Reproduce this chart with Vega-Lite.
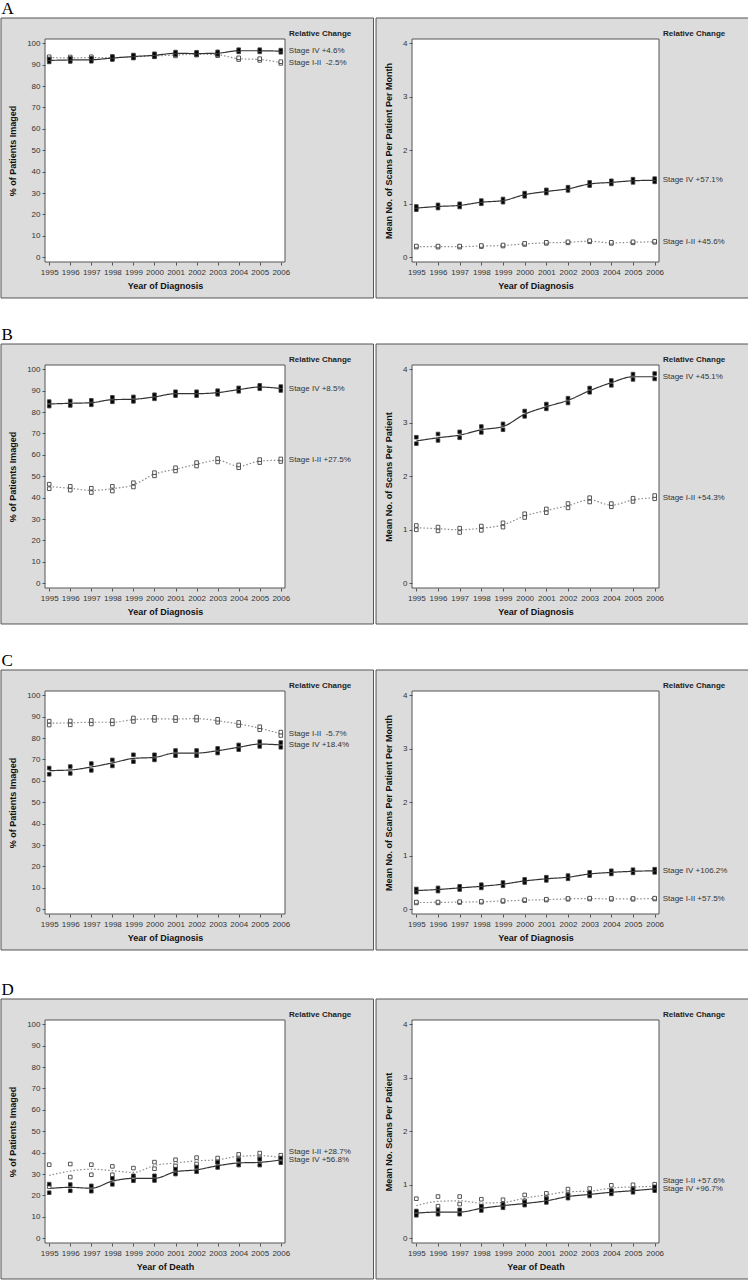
{
"$schema": "https://vega.github.io/schema/vega-lite/v6.json",
"background": "#ffffff",
"padding": {"left": 0, "top": 0, "right": 0, "bottom": 0},
"datasets": {
"labels": [
{"key": "A1 IV", "text": "Stage IV +4.6%"}, {"key": "A1 I-II", "text": "Stage I-II \u00a0-2.5%"},
{"key": "A2 IV", "text": "Stage IV +57.1%"}, {"key": "A2 I-II", "text": "Stage I-II +45.6%"},
{"key": "B1 IV", "text": "Stage IV +8.5%"}, {"key": "B1 I-II", "text": "Stage I-II +27.5%"},
{"key": "B2 IV", "text": "Stage IV +45.1%"}, {"key": "B2 I-II", "text": "Stage I-II +54.3%"},
{"key": "C1 IV", "text": "Stage IV +18.4%"}, {"key": "C1 I-II", "text": "Stage I-II \u00a0-5.7%"},
{"key": "C2 IV", "text": "Stage IV +106.2%"}, {"key": "C2 I-II", "text": "Stage I-II +57.5%"},
{"key": "D1 IV", "text": "Stage IV +56.8%"}, {"key": "D1 I-II", "text": "Stage I-II +28.7%"},
{"key": "D2 IV", "text": "Stage IV +96.7%"}, {"key": "D2 I-II", "text": "Stage I-II +57.6%"}
],
"A1": [
{"stage":"I-II","year":1995,"value":93.3,"lower":92.9,"upper":93.7},
{"stage":"I-II","year":1996,"value":93.2,"lower":92.8,"upper":93.6},
{"stage":"I-II","year":1997,"value":93.3,"lower":92.9,"upper":93.7},
{"stage":"I-II","year":1998,"value":93.3,"lower":92.9,"upper":93.7},
{"stage":"I-II","year":1999,"value":93.7,"lower":93.3,"upper":94.1},
{"stage":"I-II","year":2000,"value":94.1,"lower":93.7,"upper":94.5},
{"stage":"I-II","year":2001,"value":94.5,"lower":94.1,"upper":94.9},
{"stage":"I-II","year":2002,"value":94.9,"lower":94.5,"upper":95.3},
{"stage":"I-II","year":2003,"value":94.6,"lower":94.2,"upper":95.0},
{"stage":"I-II","year":2004,"value":92.8,"lower":92.4,"upper":93.2},
{"stage":"I-II","year":2005,"value":92.4,"lower":92.0,"upper":92.8},
{"stage":"I-II","year":2006,"value":91.0,"lower":90.6,"upper":91.4},
{"stage":"IV","year":1995,"value":92.0,"lower":91.3,"upper":92.7},
{"stage":"IV","year":1996,"value":92.2,"lower":91.5,"upper":92.9},
{"stage":"IV","year":1997,"value":92.3,"lower":91.6,"upper":93.0},
{"stage":"IV","year":1998,"value":93.1,"lower":92.4,"upper":93.8},
{"stage":"IV","year":1999,"value":93.8,"lower":93.1,"upper":94.5},
{"stage":"IV","year":2000,"value":94.4,"lower":93.7,"upper":95.1},
{"stage":"IV","year":2001,"value":95.3,"lower":94.7,"upper":95.9},
{"stage":"IV","year":2002,"value":95.2,"lower":94.6,"upper":95.8},
{"stage":"IV","year":2003,"value":95.4,"lower":94.8,"upper":96.0},
{"stage":"IV","year":2004,"value":96.5,"lower":96.0,"upper":97.0},
{"stage":"IV","year":2005,"value":96.5,"lower":96.0,"upper":97.0},
{"stage":"IV","year":2006,"value":96.3,"lower":95.8,"upper":96.8}
],
"A2": [
{"stage":"I-II","year":1995,"value":0.20,"lower":0.19,"upper":0.21},
{"stage":"I-II","year":1996,"value":0.20,"lower":0.19,"upper":0.21},
{"stage":"I-II","year":1997,"value":0.20,"lower":0.19,"upper":0.21},
{"stage":"I-II","year":1998,"value":0.21,"lower":0.20,"upper":0.22},
{"stage":"I-II","year":1999,"value":0.22,"lower":0.21,"upper":0.23},
{"stage":"I-II","year":2000,"value":0.25,"lower":0.24,"upper":0.26},
{"stage":"I-II","year":2001,"value":0.27,"lower":0.26,"upper":0.28},
{"stage":"I-II","year":2002,"value":0.28,"lower":0.27,"upper":0.29},
{"stage":"I-II","year":2003,"value":0.30,"lower":0.29,"upper":0.31},
{"stage":"I-II","year":2004,"value":0.27,"lower":0.26,"upper":0.28},
{"stage":"I-II","year":2005,"value":0.28,"lower":0.27,"upper":0.29},
{"stage":"I-II","year":2006,"value":0.29,"lower":0.28,"upper":0.30},
{"stage":"IV","year":1995,"value":0.92,"lower":0.89,"upper":0.95},
{"stage":"IV","year":1996,"value":0.95,"lower":0.92,"upper":0.98},
{"stage":"IV","year":1997,"value":0.97,"lower":0.94,"upper":1.00},
{"stage":"IV","year":1998,"value":1.03,"lower":1.00,"upper":1.06},
{"stage":"IV","year":1999,"value":1.06,"lower":1.03,"upper":1.09},
{"stage":"IV","year":2000,"value":1.17,"lower":1.14,"upper":1.20},
{"stage":"IV","year":2001,"value":1.23,"lower":1.20,"upper":1.26},
{"stage":"IV","year":2002,"value":1.28,"lower":1.25,"upper":1.31},
{"stage":"IV","year":2003,"value":1.37,"lower":1.34,"upper":1.40},
{"stage":"IV","year":2004,"value":1.40,"lower":1.37,"upper":1.43},
{"stage":"IV","year":2005,"value":1.43,"lower":1.40,"upper":1.46},
{"stage":"IV","year":2006,"value":1.44,"lower":1.41,"upper":1.47}
],
"B1": [
{"stage":"I-II","year":1995,"value":45.2,"lower":44.2,"upper":46.3},
{"stage":"I-II","year":1996,"value":44.4,"lower":43.5,"upper":45.3},
{"stage":"I-II","year":1997,"value":43.4,"lower":42.4,"upper":44.4},
{"stage":"I-II","year":1998,"value":44.2,"lower":43.1,"upper":45.3},
{"stage":"I-II","year":1999,"value":46.0,"lower":45.0,"upper":47.0},
{"stage":"I-II","year":2000,"value":51.0,"lower":50.2,"upper":51.7},
{"stage":"I-II","year":2001,"value":53.3,"lower":52.5,"upper":54.0},
{"stage":"I-II","year":2002,"value":55.6,"lower":54.8,"upper":56.4},
{"stage":"I-II","year":2003,"value":57.5,"lower":56.7,"upper":58.3},
{"stage":"I-II","year":2004,"value":54.7,"lower":54.0,"upper":55.3},
{"stage":"I-II","year":2005,"value":57.1,"lower":56.4,"upper":57.8},
{"stage":"I-II","year":2006,"value":57.5,"lower":56.9,"upper":58.1},
{"stage":"IV","year":1995,"value":83.8,"lower":82.8,"upper":84.9},
{"stage":"IV","year":1996,"value":84.1,"lower":83.1,"upper":85.2},
{"stage":"IV","year":1997,"value":84.4,"lower":83.4,"upper":85.5},
{"stage":"IV","year":1998,"value":85.8,"lower":84.8,"upper":86.9},
{"stage":"IV","year":1999,"value":86.0,"lower":85.0,"upper":87.1},
{"stage":"IV","year":2000,"value":87.1,"lower":86.2,"upper":88.1},
{"stage":"IV","year":2001,"value":88.6,"lower":87.7,"upper":89.5},
{"stage":"IV","year":2002,"value":88.6,"lower":87.7,"upper":89.5},
{"stage":"IV","year":2003,"value":89.1,"lower":88.3,"upper":90.0},
{"stage":"IV","year":2004,"value":90.5,"lower":89.7,"upper":91.3},
{"stage":"IV","year":2005,"value":91.7,"lower":90.9,"upper":92.5},
{"stage":"IV","year":2006,"value":91.0,"lower":90.1,"upper":91.9}
],
"B2": [
{"stage":"I-II","year":1995,"value":1.04,"lower":1.00,"upper":1.08},
{"stage":"I-II","year":1996,"value":1.02,"lower":0.98,"upper":1.05},
{"stage":"I-II","year":1997,"value":1.00,"lower":0.95,"upper":1.03},
{"stage":"I-II","year":1998,"value":1.03,"lower":0.99,"upper":1.07},
{"stage":"I-II","year":1999,"value":1.09,"lower":1.05,"upper":1.13},
{"stage":"I-II","year":2000,"value":1.26,"lower":1.23,"upper":1.30},
{"stage":"I-II","year":2001,"value":1.36,"lower":1.32,"upper":1.39},
{"stage":"I-II","year":2002,"value":1.45,"lower":1.41,"upper":1.49},
{"stage":"I-II","year":2003,"value":1.56,"lower":1.52,"upper":1.60},
{"stage":"I-II","year":2004,"value":1.46,"lower":1.43,"upper":1.49},
{"stage":"I-II","year":2005,"value":1.56,"lower":1.53,"upper":1.59},
{"stage":"I-II","year":2006,"value":1.60,"lower":1.58,"upper":1.64},
{"stage":"IV","year":1995,"value":2.66,"lower":2.61,"upper":2.73},
{"stage":"IV","year":1996,"value":2.72,"lower":2.67,"upper":2.79},
{"stage":"IV","year":1997,"value":2.77,"lower":2.72,"upper":2.83},
{"stage":"IV","year":1998,"value":2.87,"lower":2.82,"upper":2.93},
{"stage":"IV","year":1999,"value":2.93,"lower":2.87,"upper":2.98},
{"stage":"IV","year":2000,"value":3.16,"lower":3.12,"upper":3.22},
{"stage":"IV","year":2001,"value":3.30,"lower":3.26,"upper":3.35},
{"stage":"IV","year":2002,"value":3.42,"lower":3.37,"upper":3.46},
{"stage":"IV","year":2003,"value":3.60,"lower":3.57,"upper":3.65},
{"stage":"IV","year":2004,"value":3.75,"lower":3.70,"upper":3.79},
{"stage":"IV","year":2005,"value":3.86,"lower":3.81,"upper":3.91},
{"stage":"IV","year":2006,"value":3.86,"lower":3.82,"upper":3.92}
],
"C1": [
{"stage":"I-II","year":1995,"value":87.0,"lower":86.1,"upper":87.9},
{"stage":"I-II","year":1996,"value":87.1,"lower":86.2,"upper":88.0},
{"stage":"I-II","year":1997,"value":87.4,"lower":86.6,"upper":88.2},
{"stage":"I-II","year":1998,"value":87.4,"lower":86.6,"upper":88.2},
{"stage":"I-II","year":1999,"value":88.6,"lower":87.8,"upper":89.4},
{"stage":"I-II","year":2000,"value":89.0,"lower":88.3,"upper":89.7},
{"stage":"I-II","year":2001,"value":88.9,"lower":88.2,"upper":89.6},
{"stage":"I-II","year":2002,"value":89.1,"lower":88.4,"upper":89.8},
{"stage":"I-II","year":2003,"value":88.1,"lower":87.4,"upper":88.8},
{"stage":"I-II","year":2004,"value":86.6,"lower":85.9,"upper":87.3},
{"stage":"I-II","year":2005,"value":84.6,"lower":83.9,"upper":85.3},
{"stage":"I-II","year":2006,"value":82.0,"lower":81.2,"upper":82.8},
{"stage":"IV","year":1995,"value":64.8,"lower":63.1,"upper":66.0},
{"stage":"IV","year":1996,"value":65.1,"lower":63.5,"upper":66.7},
{"stage":"IV","year":1997,"value":66.5,"lower":64.9,"upper":68.1},
{"stage":"IV","year":1998,"value":68.4,"lower":67.0,"upper":69.8},
{"stage":"IV","year":1999,"value":70.5,"lower":69.0,"upper":72.2},
{"stage":"IV","year":2000,"value":71.0,"lower":69.8,"upper":72.2},
{"stage":"IV","year":2001,"value":73.0,"lower":71.8,"upper":74.2},
{"stage":"IV","year":2002,"value":73.0,"lower":71.8,"upper":74.2},
{"stage":"IV","year":2003,"value":74.1,"lower":73.0,"upper":75.2},
{"stage":"IV","year":2004,"value":75.7,"lower":74.6,"upper":76.8},
{"stage":"IV","year":2005,"value":77.2,"lower":76.1,"upper":78.3},
{"stage":"IV","year":2006,"value":76.8,"lower":75.7,"upper":77.9}
],
"C2": [
{"stage":"I-II","year":1995,"value":0.127,"lower":0.119,"upper":0.135},
{"stage":"I-II","year":1996,"value":0.128,"lower":0.120,"upper":0.136},
{"stage":"I-II","year":1997,"value":0.135,"lower":0.127,"upper":0.143},
{"stage":"I-II","year":1998,"value":0.140,"lower":0.132,"upper":0.148},
{"stage":"I-II","year":1999,"value":0.155,"lower":0.147,"upper":0.163},
{"stage":"I-II","year":2000,"value":0.170,"lower":0.162,"upper":0.178},
{"stage":"I-II","year":2001,"value":0.180,"lower":0.172,"upper":0.188},
{"stage":"I-II","year":2002,"value":0.195,"lower":0.187,"upper":0.203},
{"stage":"I-II","year":2003,"value":0.200,"lower":0.192,"upper":0.208},
{"stage":"I-II","year":2004,"value":0.195,"lower":0.187,"upper":0.203},
{"stage":"I-II","year":2005,"value":0.195,"lower":0.187,"upper":0.203},
{"stage":"I-II","year":2006,"value":0.200,"lower":0.192,"upper":0.208},
{"stage":"IV","year":1995,"value":0.35,"lower":0.32,"upper":0.38},
{"stage":"IV","year":1996,"value":0.37,"lower":0.34,"upper":0.40},
{"stage":"IV","year":1997,"value":0.40,"lower":0.37,"upper":0.43},
{"stage":"IV","year":1998,"value":0.43,"lower":0.40,"upper":0.46},
{"stage":"IV","year":1999,"value":0.47,"lower":0.44,"upper":0.50},
{"stage":"IV","year":2000,"value":0.53,"lower":0.50,"upper":0.56},
{"stage":"IV","year":2001,"value":0.57,"lower":0.54,"upper":0.60},
{"stage":"IV","year":2002,"value":0.60,"lower":0.57,"upper":0.63},
{"stage":"IV","year":2003,"value":0.66,"lower":0.63,"upper":0.69},
{"stage":"IV","year":2004,"value":0.69,"lower":0.66,"upper":0.72},
{"stage":"IV","year":2005,"value":0.71,"lower":0.68,"upper":0.74},
{"stage":"IV","year":2006,"value":0.72,"lower":0.69,"upper":0.75}
],
"D1": [
{"stage":"I-II","year":1995,"value":29.4,"lower":24.1,"upper":34.4},
{"stage":"I-II","year":1996,"value":31.4,"lower":28.6,"upper":34.7},
{"stage":"I-II","year":1997,"value":32.3,"lower":29.7,"upper":34.4},
{"stage":"I-II","year":1998,"value":31.6,"lower":29.7,"upper":33.6},
{"stage":"I-II","year":1999,"value":30.8,"lower":28.0,"upper":32.8},
{"stage":"I-II","year":2000,"value":34.0,"lower":32.5,"upper":35.6},
{"stage":"I-II","year":2001,"value":35.2,"lower":33.8,"upper":36.7},
{"stage":"I-II","year":2002,"value":36.2,"lower":34.7,"upper":37.7},
{"stage":"I-II","year":2003,"value":36.7,"lower":35.5,"upper":37.5},
{"stage":"I-II","year":2004,"value":38.3,"lower":37.0,"upper":39.2},
{"stage":"I-II","year":2005,"value":38.6,"lower":37.5,"upper":39.8},
{"stage":"I-II","year":2006,"value":37.8,"lower":37.0,"upper":38.8},
{"stage":"IV","year":1995,"value":23.3,"lower":21.3,"upper":25.3},
{"stage":"IV","year":1996,"value":23.8,"lower":22.2,"upper":25.1},
{"stage":"IV","year":1997,"value":23.4,"lower":22.0,"upper":24.5},
{"stage":"IV","year":1998,"value":26.7,"lower":25.2,"upper":28.0},
{"stage":"IV","year":1999,"value":28.0,"lower":26.9,"upper":29.2},
{"stage":"IV","year":2000,"value":28.0,"lower":27.0,"upper":29.2},
{"stage":"IV","year":2001,"value":31.1,"lower":30.0,"upper":32.3},
{"stage":"IV","year":2002,"value":32.0,"lower":31.1,"upper":33.3},
{"stage":"IV","year":2003,"value":33.9,"lower":33.1,"upper":35.5},
{"stage":"IV","year":2004,"value":35.2,"lower":34.2,"upper":36.6},
{"stage":"IV","year":2005,"value":35.5,"lower":34.2,"upper":36.9},
{"stage":"IV","year":2006,"value":36.6,"lower":35.3,"upper":37.5}
],
"D2": [
{"stage":"I-II","year":1995,"value":0.61,"lower":0.48,"upper":0.74},
{"stage":"I-II","year":1996,"value":0.69,"lower":0.60,"upper":0.78},
{"stage":"I-II","year":1997,"value":0.70,"lower":0.64,"upper":0.78},
{"stage":"I-II","year":1998,"value":0.66,"lower":0.60,"upper":0.73},
{"stage":"I-II","year":1999,"value":0.67,"lower":0.61,"upper":0.72},
{"stage":"I-II","year":2000,"value":0.75,"lower":0.70,"upper":0.81},
{"stage":"I-II","year":2001,"value":0.81,"lower":0.76,"upper":0.84},
{"stage":"I-II","year":2002,"value":0.87,"lower":0.82,"upper":0.92},
{"stage":"I-II","year":2003,"value":0.88,"lower":0.83,"upper":0.93},
{"stage":"I-II","year":2004,"value":0.94,"lower":0.89,"upper":0.99},
{"stage":"I-II","year":2005,"value":0.96,"lower":0.92,"upper":1.00},
{"stage":"I-II","year":2006,"value":0.97,"lower":0.93,"upper":1.01},
{"stage":"IV","year":1995,"value":0.47,"lower":0.43,"upper":0.51},
{"stage":"IV","year":1996,"value":0.49,"lower":0.45,"upper":0.53},
{"stage":"IV","year":1997,"value":0.49,"lower":0.45,"upper":0.53},
{"stage":"IV","year":1998,"value":0.56,"lower":0.52,"upper":0.60},
{"stage":"IV","year":1999,"value":0.61,"lower":0.57,"upper":0.64},
{"stage":"IV","year":2000,"value":0.65,"lower":0.62,"upper":0.68},
{"stage":"IV","year":2001,"value":0.70,"lower":0.67,"upper":0.74},
{"stage":"IV","year":2002,"value":0.78,"lower":0.75,"upper":0.81},
{"stage":"IV","year":2003,"value":0.82,"lower":0.79,"upper":0.85},
{"stage":"IV","year":2004,"value":0.86,"lower":0.83,"upper":0.89},
{"stage":"IV","year":2005,"value":0.89,"lower":0.86,"upper":0.92},
{"stage":"IV","year":2006,"value":0.925,"lower":0.89,"upper":0.96}
]
},
"config": {
"font": "Liberation Sans",
"view": {"stroke": null},
"axis": {"grid": false, "domain": false, "tickSize": 3, "tickColor": "#555555", "tickWidth": 1, "labelFont": "Liberation Sans", "labelFontSize": 8, "labelColor": "#333333", "titleFont": "Liberation Sans", "titleFontSize": 9, "titleFontWeight": "bold", "titleColor": "#111111", "labelOverlap": false, "labelFlush": false},
"axisX": {"labelPadding": 3, "titlePadding": 5},
"axisY": {"labelPadding": 2, "titlePadding": 9},
"text": {"font": "Liberation Sans"}
},
"spacing": 30,
"vconcat": [
{"spacing": 27, "vconcat": [
{"title": {"text": "A", "anchor": "start", "frame": "bounds", "orient": "top", "baseline": "alphabetic", "offset": -13.5, "dx": 1, "font": "Liberation Serif", "fontSize": 17, "fontWeight": "normal", "color": "#000000"},
 "spacing": 0, "hconcat": [
{"width": 240, "height": 223, "data": {"name": "A1"}, "layer": [
 {"data": {"values": [{}]}, "mark": {"type": "rect", "fill": "#dcdcdc", "stroke": "#555555", "strokeWidth": 1, "clip": false},
  "encoding": {"x": {"datum": 1992.71, "type": "quantitative", "scale": {"domain": [1994.8, 2006.2], "nice": false, "zero": false}, "axis": {"values": [1995,1996,1997,1998,1999,2000,2001,2002,2003,2004,2005,2006], "format": "d", "title": "Year of Diagnosis", "zindex": 1}}, "x2": {"datum": 2010.404},
   "y": {"datum": -19.02, "type": "quantitative", "scale": {"domain": [-2.2, 102], "nice": false, "zero": false}, "axis": {"values": [0,10,20,30,40,50,60,70,80,90,100], "format": "d", "title": "% of Patients Imaged", "zindex": 1}}, "y2": {"datum": 111.81}}},
 {"data": {"values": [{}]}, "mark": {"type": "rect", "fill": "#ffffff", "stroke": "#555555", "strokeWidth": 1},
  "encoding": {"x": {"datum": 1994.8, "type": "quantitative", "scale": {"domain": [1994.8, 2006.2], "nice": false, "zero": false}, "axis": {"values": [1995,1996,1997,1998,1999,2000,2001,2002,2003,2004,2005,2006], "format": "d", "title": "Year of Diagnosis", "zindex": 1}}, "x2": {"datum": 2006.2},
   "y": {"datum": -2.2, "type": "quantitative", "scale": {"domain": [-2.2, 102], "nice": false, "zero": false}, "axis": {"values": [0,10,20,30,40,50,60,70,80,90,100], "format": "d", "title": "% of Patients Imaged", "zindex": 1}}, "y2": {"datum": 102}}},
 {"mark": {"type": "line", "interpolate": "monotone", "strokeWidth": 1.2},
  "encoding": {"x": {"field": "year", "type": "quantitative", "scale": {"domain": [1994.8, 2006.2], "nice": false, "zero": false}, "axis": {"values": [1995,1996,1997,1998,1999,2000,2001,2002,2003,2004,2005,2006], "format": "d", "title": "Year of Diagnosis", "zindex": 1}},
   "y": {"field": "value", "type": "quantitative", "scale": {"domain": [-2.2, 102], "nice": false, "zero": false}, "axis": {"values": [0,10,20,30,40,50,60,70,80,90,100], "format": "d", "title": "% of Patients Imaged", "zindex": 1}},
   "stroke": {"field": "stage", "type": "nominal", "scale": {"domain": ["I-II", "IV"], "range": ["#8a8a8a", "#333333"]}, "legend": null},
   "strokeDash": {"field": "stage", "type": "nominal", "scale": {"domain": ["I-II", "IV"], "range": [[1.5, 2], [1, 0]]}, "legend": null}}},
 {"transform": [{"fold": ["lower", "upper"], "as": ["bound", "est"]}],
  "mark": {"type": "point", "shape": "square", "size": 13, "filled": true, "stroke": "#444444", "strokeWidth": 0.9, "opacity": 1},
  "encoding": {"x": {"field": "year", "type": "quantitative", "scale": {"domain": [1994.8, 2006.2], "nice": false, "zero": false}, "axis": {"values": [1995,1996,1997,1998,1999,2000,2001,2002,2003,2004,2005,2006], "format": "d", "title": "Year of Diagnosis", "zindex": 1}},
   "y": {"field": "est", "type": "quantitative", "scale": {"domain": [-2.2, 102], "nice": false, "zero": false}, "axis": {"values": [0,10,20,30,40,50,60,70,80,90,100], "format": "d", "title": "% of Patients Imaged", "zindex": 1}},
   "fill": {"field": "stage", "type": "nominal", "scale": {"domain": ["I-II", "IV"], "range": ["#ffffff", "#000000"]}, "legend": null},
   "order": {"field": "stage", "type": "nominal"}}},
 {"transform": [{"filter": "datum.year == 2006"}, {"calculate": "'A1 ' + datum.stage", "as": "key"}, {"lookup": "key", "from": {"data": {"name": "labels"}, "key": "key", "fields": ["text"]}}],
  "mark": {"type": "text", "align": "left", "baseline": "middle", "dx": 8, "fontSize": 8, "color": "#333333"},
  "encoding": {"x": {"field": "year", "type": "quantitative", "scale": {"domain": [1994.8, 2006.2], "nice": false, "zero": false}, "axis": {"values": [1995,1996,1997,1998,1999,2000,2001,2002,2003,2004,2005,2006], "format": "d", "title": "Year of Diagnosis", "zindex": 1}},
   "y": {"field": "value", "type": "quantitative", "scale": {"domain": [-2.2, 102], "nice": false, "zero": false}, "axis": {"values": [0,10,20,30,40,50,60,70,80,90,100], "format": "d", "title": "% of Patients Imaged", "zindex": 1}},
   "text": {"field": "text", "type": "nominal"}}},
 {"data": {"values": [{}]}, "mark": {"type": "text", "text": "Relative Change", "align": "left", "baseline": "middle", "dx": 4, "dy": -5, "fontSize": 8, "fontWeight": "bold", "color": "#222222"},
  "encoding": {"x": {"datum": 2006.2, "type": "quantitative", "scale": {"domain": [1994.8, 2006.2], "nice": false, "zero": false}, "axis": {"values": [1995,1996,1997,1998,1999,2000,2001,2002,2003,2004,2005,2006], "format": "d", "title": "Year of Diagnosis", "zindex": 1}},
   "y": {"datum": 102, "type": "quantitative", "scale": {"domain": [-2.2, 102], "nice": false, "zero": false}, "axis": {"values": [0,10,20,30,40,50,60,70,80,90,100], "format": "d", "title": "% of Patients Imaged", "zindex": 1}}}}
]},
{"width": 247, "height": 223, "data": {"name": "A2"}, "layer": [
 {"data": {"values": [{}]}, "mark": {"type": "rect", "fill": "#dcdcdc", "stroke": "#555555", "strokeWidth": 1, "clip": false},
  "encoding": {"x": {"datum": 1993.14, "type": "quantitative", "scale": {"domain": [1994.8, 2006.2], "nice": false, "zero": false}, "axis": {"values": [1995,1996,1997,1998,1999,2000,2001,2002,2003,2004,2005,2006], "format": "d", "title": "Year of Diagnosis", "zindex": 1}}, "x2": {"datum": 2010.35},
   "y": {"datum": -0.7609, "type": "quantitative", "scale": {"domain": [-0.088, 4.08], "nice": false, "zero": false}, "axis": {"values": [0,1,2,3,4], "format": "d", "title": "Mean No. of Scans Per Patient Per Month", "zindex": 1}}, "y2": {"datum": 4.4725}}},
 {"data": {"values": [{}]}, "mark": {"type": "rect", "fill": "#ffffff", "stroke": "#555555", "strokeWidth": 1},
  "encoding": {"x": {"datum": 1994.8, "type": "quantitative", "scale": {"domain": [1994.8, 2006.2], "nice": false, "zero": false}, "axis": {"values": [1995,1996,1997,1998,1999,2000,2001,2002,2003,2004,2005,2006], "format": "d", "title": "Year of Diagnosis", "zindex": 1}}, "x2": {"datum": 2006.2},
   "y": {"datum": -0.088, "type": "quantitative", "scale": {"domain": [-0.088, 4.08], "nice": false, "zero": false}, "axis": {"values": [0,1,2,3,4], "format": "d", "title": "Mean No. of Scans Per Patient Per Month", "zindex": 1}}, "y2": {"datum": 4.08}}},
 {"mark": {"type": "line", "interpolate": "monotone", "strokeWidth": 1.2},
  "encoding": {"x": {"field": "year", "type": "quantitative", "scale": {"domain": [1994.8, 2006.2], "nice": false, "zero": false}, "axis": {"values": [1995,1996,1997,1998,1999,2000,2001,2002,2003,2004,2005,2006], "format": "d", "title": "Year of Diagnosis", "zindex": 1}},
   "y": {"field": "value", "type": "quantitative", "scale": {"domain": [-0.088, 4.08], "nice": false, "zero": false}, "axis": {"values": [0,1,2,3,4], "format": "d", "title": "Mean No. of Scans Per Patient Per Month", "zindex": 1}},
   "stroke": {"field": "stage", "type": "nominal", "scale": {"domain": ["I-II", "IV"], "range": ["#8a8a8a", "#333333"]}, "legend": null},
   "strokeDash": {"field": "stage", "type": "nominal", "scale": {"domain": ["I-II", "IV"], "range": [[1.5, 2], [1, 0]]}, "legend": null}}},
 {"transform": [{"fold": ["lower", "upper"], "as": ["bound", "est"]}],
  "mark": {"type": "point", "shape": "square", "size": 13, "filled": true, "stroke": "#444444", "strokeWidth": 0.9, "opacity": 1},
  "encoding": {"x": {"field": "year", "type": "quantitative", "scale": {"domain": [1994.8, 2006.2], "nice": false, "zero": false}, "axis": {"values": [1995,1996,1997,1998,1999,2000,2001,2002,2003,2004,2005,2006], "format": "d", "title": "Year of Diagnosis", "zindex": 1}},
   "y": {"field": "est", "type": "quantitative", "scale": {"domain": [-0.088, 4.08], "nice": false, "zero": false}, "axis": {"values": [0,1,2,3,4], "format": "d", "title": "Mean No. of Scans Per Patient Per Month", "zindex": 1}},
   "fill": {"field": "stage", "type": "nominal", "scale": {"domain": ["I-II", "IV"], "range": ["#ffffff", "#000000"]}, "legend": null},
   "order": {"field": "stage", "type": "nominal"}}},
 {"transform": [{"filter": "datum.year == 2006"}, {"calculate": "'A2 ' + datum.stage", "as": "key"}, {"lookup": "key", "from": {"data": {"name": "labels"}, "key": "key", "fields": ["text"]}}],
  "mark": {"type": "text", "align": "left", "baseline": "middle", "dx": 8, "fontSize": 8, "color": "#333333"},
  "encoding": {"x": {"field": "year", "type": "quantitative", "scale": {"domain": [1994.8, 2006.2], "nice": false, "zero": false}, "axis": {"values": [1995,1996,1997,1998,1999,2000,2001,2002,2003,2004,2005,2006], "format": "d", "title": "Year of Diagnosis", "zindex": 1}},
   "y": {"field": "value", "type": "quantitative", "scale": {"domain": [-0.088, 4.08], "nice": false, "zero": false}, "axis": {"values": [0,1,2,3,4], "format": "d", "title": "Mean No. of Scans Per Patient Per Month", "zindex": 1}},
   "text": {"field": "text", "type": "nominal"}}},
 {"data": {"values": [{}]}, "mark": {"type": "text", "text": "Relative Change", "align": "left", "baseline": "middle", "dx": 4, "dy": -5, "fontSize": 8, "fontWeight": "bold", "color": "#222222"},
  "encoding": {"x": {"datum": 2006.2, "type": "quantitative", "scale": {"domain": [1994.8, 2006.2], "nice": false, "zero": false}, "axis": {"values": [1995,1996,1997,1998,1999,2000,2001,2002,2003,2004,2005,2006], "format": "d", "title": "Year of Diagnosis", "zindex": 1}},
   "y": {"datum": 4.08, "type": "quantitative", "scale": {"domain": [-0.088, 4.08], "nice": false, "zero": false}, "axis": {"values": [0,1,2,3,4], "format": "d", "title": "Mean No. of Scans Per Patient Per Month", "zindex": 1}}}}
]}
]},
{"title": {"text": "B", "anchor": "start", "frame": "bounds", "orient": "top", "baseline": "alphabetic", "offset": -13.5, "dx": 1, "font": "Liberation Serif", "fontSize": 17, "fontWeight": "normal", "color": "#000000"},
 "spacing": 0, "hconcat": [
{"width": 240, "height": 223, "data": {"name": "B1"}, "layer": [
 {"data": {"values": [{}]}, "mark": {"type": "rect", "fill": "#dcdcdc", "stroke": "#555555", "strokeWidth": 1, "clip": false},
  "encoding": {"x": {"datum": 1992.71, "type": "quantitative", "scale": {"domain": [1994.8, 2006.2], "nice": false, "zero": false}, "axis": {"values": [1995,1996,1997,1998,1999,2000,2001,2002,2003,2004,2005,2006], "format": "d", "title": "Year of Diagnosis", "zindex": 1}}, "x2": {"datum": 2010.404},
   "y": {"datum": -19.02, "type": "quantitative", "scale": {"domain": [-2.2, 102], "nice": false, "zero": false}, "axis": {"values": [0,10,20,30,40,50,60,70,80,90,100], "format": "d", "title": "% of Patients Imaged", "zindex": 1}}, "y2": {"datum": 111.81}}},
 {"data": {"values": [{}]}, "mark": {"type": "rect", "fill": "#ffffff", "stroke": "#555555", "strokeWidth": 1},
  "encoding": {"x": {"datum": 1994.8, "type": "quantitative", "scale": {"domain": [1994.8, 2006.2], "nice": false, "zero": false}, "axis": {"values": [1995,1996,1997,1998,1999,2000,2001,2002,2003,2004,2005,2006], "format": "d", "title": "Year of Diagnosis", "zindex": 1}}, "x2": {"datum": 2006.2},
   "y": {"datum": -2.2, "type": "quantitative", "scale": {"domain": [-2.2, 102], "nice": false, "zero": false}, "axis": {"values": [0,10,20,30,40,50,60,70,80,90,100], "format": "d", "title": "% of Patients Imaged", "zindex": 1}}, "y2": {"datum": 102}}},
 {"mark": {"type": "line", "interpolate": "monotone", "strokeWidth": 1.2},
  "encoding": {"x": {"field": "year", "type": "quantitative", "scale": {"domain": [1994.8, 2006.2], "nice": false, "zero": false}, "axis": {"values": [1995,1996,1997,1998,1999,2000,2001,2002,2003,2004,2005,2006], "format": "d", "title": "Year of Diagnosis", "zindex": 1}},
   "y": {"field": "value", "type": "quantitative", "scale": {"domain": [-2.2, 102], "nice": false, "zero": false}, "axis": {"values": [0,10,20,30,40,50,60,70,80,90,100], "format": "d", "title": "% of Patients Imaged", "zindex": 1}},
   "stroke": {"field": "stage", "type": "nominal", "scale": {"domain": ["I-II", "IV"], "range": ["#8a8a8a", "#333333"]}, "legend": null},
   "strokeDash": {"field": "stage", "type": "nominal", "scale": {"domain": ["I-II", "IV"], "range": [[1.5, 2], [1, 0]]}, "legend": null}}},
 {"transform": [{"fold": ["lower", "upper"], "as": ["bound", "est"]}],
  "mark": {"type": "point", "shape": "square", "size": 13, "filled": true, "stroke": "#444444", "strokeWidth": 0.9, "opacity": 1},
  "encoding": {"x": {"field": "year", "type": "quantitative", "scale": {"domain": [1994.8, 2006.2], "nice": false, "zero": false}, "axis": {"values": [1995,1996,1997,1998,1999,2000,2001,2002,2003,2004,2005,2006], "format": "d", "title": "Year of Diagnosis", "zindex": 1}},
   "y": {"field": "est", "type": "quantitative", "scale": {"domain": [-2.2, 102], "nice": false, "zero": false}, "axis": {"values": [0,10,20,30,40,50,60,70,80,90,100], "format": "d", "title": "% of Patients Imaged", "zindex": 1}},
   "fill": {"field": "stage", "type": "nominal", "scale": {"domain": ["I-II", "IV"], "range": ["#ffffff", "#000000"]}, "legend": null},
   "order": {"field": "stage", "type": "nominal"}}},
 {"transform": [{"filter": "datum.year == 2006"}, {"calculate": "'B1 ' + datum.stage", "as": "key"}, {"lookup": "key", "from": {"data": {"name": "labels"}, "key": "key", "fields": ["text"]}}],
  "mark": {"type": "text", "align": "left", "baseline": "middle", "dx": 8, "fontSize": 8, "color": "#333333"},
  "encoding": {"x": {"field": "year", "type": "quantitative", "scale": {"domain": [1994.8, 2006.2], "nice": false, "zero": false}, "axis": {"values": [1995,1996,1997,1998,1999,2000,2001,2002,2003,2004,2005,2006], "format": "d", "title": "Year of Diagnosis", "zindex": 1}},
   "y": {"field": "value", "type": "quantitative", "scale": {"domain": [-2.2, 102], "nice": false, "zero": false}, "axis": {"values": [0,10,20,30,40,50,60,70,80,90,100], "format": "d", "title": "% of Patients Imaged", "zindex": 1}},
   "text": {"field": "text", "type": "nominal"}}},
 {"data": {"values": [{}]}, "mark": {"type": "text", "text": "Relative Change", "align": "left", "baseline": "middle", "dx": 4, "dy": -5, "fontSize": 8, "fontWeight": "bold", "color": "#222222"},
  "encoding": {"x": {"datum": 2006.2, "type": "quantitative", "scale": {"domain": [1994.8, 2006.2], "nice": false, "zero": false}, "axis": {"values": [1995,1996,1997,1998,1999,2000,2001,2002,2003,2004,2005,2006], "format": "d", "title": "Year of Diagnosis", "zindex": 1}},
   "y": {"datum": 102, "type": "quantitative", "scale": {"domain": [-2.2, 102], "nice": false, "zero": false}, "axis": {"values": [0,10,20,30,40,50,60,70,80,90,100], "format": "d", "title": "% of Patients Imaged", "zindex": 1}}}}
]},
{"width": 247, "height": 223, "data": {"name": "B2"}, "layer": [
 {"data": {"values": [{}]}, "mark": {"type": "rect", "fill": "#dcdcdc", "stroke": "#555555", "strokeWidth": 1, "clip": false},
  "encoding": {"x": {"datum": 1993.14, "type": "quantitative", "scale": {"domain": [1994.8, 2006.2], "nice": false, "zero": false}, "axis": {"values": [1995,1996,1997,1998,1999,2000,2001,2002,2003,2004,2005,2006], "format": "d", "title": "Year of Diagnosis", "zindex": 1}}, "x2": {"datum": 2010.35},
   "y": {"datum": -0.7609, "type": "quantitative", "scale": {"domain": [-0.088, 4.08], "nice": false, "zero": false}, "axis": {"values": [0,1,2,3,4], "format": "d", "title": "Mean No. of Scans Per Patient", "zindex": 1}}, "y2": {"datum": 4.4725}}},
 {"data": {"values": [{}]}, "mark": {"type": "rect", "fill": "#ffffff", "stroke": "#555555", "strokeWidth": 1},
  "encoding": {"x": {"datum": 1994.8, "type": "quantitative", "scale": {"domain": [1994.8, 2006.2], "nice": false, "zero": false}, "axis": {"values": [1995,1996,1997,1998,1999,2000,2001,2002,2003,2004,2005,2006], "format": "d", "title": "Year of Diagnosis", "zindex": 1}}, "x2": {"datum": 2006.2},
   "y": {"datum": -0.088, "type": "quantitative", "scale": {"domain": [-0.088, 4.08], "nice": false, "zero": false}, "axis": {"values": [0,1,2,3,4], "format": "d", "title": "Mean No. of Scans Per Patient", "zindex": 1}}, "y2": {"datum": 4.08}}},
 {"mark": {"type": "line", "interpolate": "monotone", "strokeWidth": 1.2},
  "encoding": {"x": {"field": "year", "type": "quantitative", "scale": {"domain": [1994.8, 2006.2], "nice": false, "zero": false}, "axis": {"values": [1995,1996,1997,1998,1999,2000,2001,2002,2003,2004,2005,2006], "format": "d", "title": "Year of Diagnosis", "zindex": 1}},
   "y": {"field": "value", "type": "quantitative", "scale": {"domain": [-0.088, 4.08], "nice": false, "zero": false}, "axis": {"values": [0,1,2,3,4], "format": "d", "title": "Mean No. of Scans Per Patient", "zindex": 1}},
   "stroke": {"field": "stage", "type": "nominal", "scale": {"domain": ["I-II", "IV"], "range": ["#8a8a8a", "#333333"]}, "legend": null},
   "strokeDash": {"field": "stage", "type": "nominal", "scale": {"domain": ["I-II", "IV"], "range": [[1.5, 2], [1, 0]]}, "legend": null}}},
 {"transform": [{"fold": ["lower", "upper"], "as": ["bound", "est"]}],
  "mark": {"type": "point", "shape": "square", "size": 13, "filled": true, "stroke": "#444444", "strokeWidth": 0.9, "opacity": 1},
  "encoding": {"x": {"field": "year", "type": "quantitative", "scale": {"domain": [1994.8, 2006.2], "nice": false, "zero": false}, "axis": {"values": [1995,1996,1997,1998,1999,2000,2001,2002,2003,2004,2005,2006], "format": "d", "title": "Year of Diagnosis", "zindex": 1}},
   "y": {"field": "est", "type": "quantitative", "scale": {"domain": [-0.088, 4.08], "nice": false, "zero": false}, "axis": {"values": [0,1,2,3,4], "format": "d", "title": "Mean No. of Scans Per Patient", "zindex": 1}},
   "fill": {"field": "stage", "type": "nominal", "scale": {"domain": ["I-II", "IV"], "range": ["#ffffff", "#000000"]}, "legend": null},
   "order": {"field": "stage", "type": "nominal"}}},
 {"transform": [{"filter": "datum.year == 2006"}, {"calculate": "'B2 ' + datum.stage", "as": "key"}, {"lookup": "key", "from": {"data": {"name": "labels"}, "key": "key", "fields": ["text"]}}],
  "mark": {"type": "text", "align": "left", "baseline": "middle", "dx": 8, "fontSize": 8, "color": "#333333"},
  "encoding": {"x": {"field": "year", "type": "quantitative", "scale": {"domain": [1994.8, 2006.2], "nice": false, "zero": false}, "axis": {"values": [1995,1996,1997,1998,1999,2000,2001,2002,2003,2004,2005,2006], "format": "d", "title": "Year of Diagnosis", "zindex": 1}},
   "y": {"field": "value", "type": "quantitative", "scale": {"domain": [-0.088, 4.08], "nice": false, "zero": false}, "axis": {"values": [0,1,2,3,4], "format": "d", "title": "Mean No. of Scans Per Patient", "zindex": 1}},
   "text": {"field": "text", "type": "nominal"}}},
 {"data": {"values": [{}]}, "mark": {"type": "text", "text": "Relative Change", "align": "left", "baseline": "middle", "dx": 4, "dy": -5, "fontSize": 8, "fontWeight": "bold", "color": "#222222"},
  "encoding": {"x": {"datum": 2006.2, "type": "quantitative", "scale": {"domain": [1994.8, 2006.2], "nice": false, "zero": false}, "axis": {"values": [1995,1996,1997,1998,1999,2000,2001,2002,2003,2004,2005,2006], "format": "d", "title": "Year of Diagnosis", "zindex": 1}},
   "y": {"datum": 4.08, "type": "quantitative", "scale": {"domain": [-0.088, 4.08], "nice": false, "zero": false}, "axis": {"values": [0,1,2,3,4], "format": "d", "title": "Mean No. of Scans Per Patient", "zindex": 1}}}}
]}
]},
{"title": {"text": "C", "anchor": "start", "frame": "bounds", "orient": "top", "baseline": "alphabetic", "offset": -13.5, "dx": 1, "font": "Liberation Serif", "fontSize": 17, "fontWeight": "normal", "color": "#000000"},
 "spacing": 0, "hconcat": [
{"width": 240, "height": 223, "data": {"name": "C1"}, "layer": [
 {"data": {"values": [{}]}, "mark": {"type": "rect", "fill": "#dcdcdc", "stroke": "#555555", "strokeWidth": 1, "clip": false},
  "encoding": {"x": {"datum": 1992.71, "type": "quantitative", "scale": {"domain": [1994.8, 2006.2], "nice": false, "zero": false}, "axis": {"values": [1995,1996,1997,1998,1999,2000,2001,2002,2003,2004,2005,2006], "format": "d", "title": "Year of Diagnosis", "zindex": 1}}, "x2": {"datum": 2010.404},
   "y": {"datum": -19.02, "type": "quantitative", "scale": {"domain": [-2.2, 102], "nice": false, "zero": false}, "axis": {"values": [0,10,20,30,40,50,60,70,80,90,100], "format": "d", "title": "% of Patients Imaged", "zindex": 1}}, "y2": {"datum": 111.81}}},
 {"data": {"values": [{}]}, "mark": {"type": "rect", "fill": "#ffffff", "stroke": "#555555", "strokeWidth": 1},
  "encoding": {"x": {"datum": 1994.8, "type": "quantitative", "scale": {"domain": [1994.8, 2006.2], "nice": false, "zero": false}, "axis": {"values": [1995,1996,1997,1998,1999,2000,2001,2002,2003,2004,2005,2006], "format": "d", "title": "Year of Diagnosis", "zindex": 1}}, "x2": {"datum": 2006.2},
   "y": {"datum": -2.2, "type": "quantitative", "scale": {"domain": [-2.2, 102], "nice": false, "zero": false}, "axis": {"values": [0,10,20,30,40,50,60,70,80,90,100], "format": "d", "title": "% of Patients Imaged", "zindex": 1}}, "y2": {"datum": 102}}},
 {"mark": {"type": "line", "interpolate": "monotone", "strokeWidth": 1.2},
  "encoding": {"x": {"field": "year", "type": "quantitative", "scale": {"domain": [1994.8, 2006.2], "nice": false, "zero": false}, "axis": {"values": [1995,1996,1997,1998,1999,2000,2001,2002,2003,2004,2005,2006], "format": "d", "title": "Year of Diagnosis", "zindex": 1}},
   "y": {"field": "value", "type": "quantitative", "scale": {"domain": [-2.2, 102], "nice": false, "zero": false}, "axis": {"values": [0,10,20,30,40,50,60,70,80,90,100], "format": "d", "title": "% of Patients Imaged", "zindex": 1}},
   "stroke": {"field": "stage", "type": "nominal", "scale": {"domain": ["I-II", "IV"], "range": ["#8a8a8a", "#333333"]}, "legend": null},
   "strokeDash": {"field": "stage", "type": "nominal", "scale": {"domain": ["I-II", "IV"], "range": [[1.5, 2], [1, 0]]}, "legend": null}}},
 {"transform": [{"fold": ["lower", "upper"], "as": ["bound", "est"]}],
  "mark": {"type": "point", "shape": "square", "size": 13, "filled": true, "stroke": "#444444", "strokeWidth": 0.9, "opacity": 1},
  "encoding": {"x": {"field": "year", "type": "quantitative", "scale": {"domain": [1994.8, 2006.2], "nice": false, "zero": false}, "axis": {"values": [1995,1996,1997,1998,1999,2000,2001,2002,2003,2004,2005,2006], "format": "d", "title": "Year of Diagnosis", "zindex": 1}},
   "y": {"field": "est", "type": "quantitative", "scale": {"domain": [-2.2, 102], "nice": false, "zero": false}, "axis": {"values": [0,10,20,30,40,50,60,70,80,90,100], "format": "d", "title": "% of Patients Imaged", "zindex": 1}},
   "fill": {"field": "stage", "type": "nominal", "scale": {"domain": ["I-II", "IV"], "range": ["#ffffff", "#000000"]}, "legend": null},
   "order": {"field": "stage", "type": "nominal"}}},
 {"transform": [{"filter": "datum.year == 2006"}, {"calculate": "'C1 ' + datum.stage", "as": "key"}, {"lookup": "key", "from": {"data": {"name": "labels"}, "key": "key", "fields": ["text"]}}],
  "mark": {"type": "text", "align": "left", "baseline": "middle", "dx": 8, "fontSize": 8, "color": "#333333"},
  "encoding": {"x": {"field": "year", "type": "quantitative", "scale": {"domain": [1994.8, 2006.2], "nice": false, "zero": false}, "axis": {"values": [1995,1996,1997,1998,1999,2000,2001,2002,2003,2004,2005,2006], "format": "d", "title": "Year of Diagnosis", "zindex": 1}},
   "y": {"field": "value", "type": "quantitative", "scale": {"domain": [-2.2, 102], "nice": false, "zero": false}, "axis": {"values": [0,10,20,30,40,50,60,70,80,90,100], "format": "d", "title": "% of Patients Imaged", "zindex": 1}},
   "text": {"field": "text", "type": "nominal"}}},
 {"data": {"values": [{}]}, "mark": {"type": "text", "text": "Relative Change", "align": "left", "baseline": "middle", "dx": 4, "dy": -5, "fontSize": 8, "fontWeight": "bold", "color": "#222222"},
  "encoding": {"x": {"datum": 2006.2, "type": "quantitative", "scale": {"domain": [1994.8, 2006.2], "nice": false, "zero": false}, "axis": {"values": [1995,1996,1997,1998,1999,2000,2001,2002,2003,2004,2005,2006], "format": "d", "title": "Year of Diagnosis", "zindex": 1}},
   "y": {"datum": 102, "type": "quantitative", "scale": {"domain": [-2.2, 102], "nice": false, "zero": false}, "axis": {"values": [0,10,20,30,40,50,60,70,80,90,100], "format": "d", "title": "% of Patients Imaged", "zindex": 1}}}}
]},
{"width": 247, "height": 223, "data": {"name": "C2"}, "layer": [
 {"data": {"values": [{}]}, "mark": {"type": "rect", "fill": "#dcdcdc", "stroke": "#555555", "strokeWidth": 1, "clip": false},
  "encoding": {"x": {"datum": 1993.14, "type": "quantitative", "scale": {"domain": [1994.8, 2006.2], "nice": false, "zero": false}, "axis": {"values": [1995,1996,1997,1998,1999,2000,2001,2002,2003,2004,2005,2006], "format": "d", "title": "Year of Diagnosis", "zindex": 1}}, "x2": {"datum": 2010.35},
   "y": {"datum": -0.7609, "type": "quantitative", "scale": {"domain": [-0.088, 4.08], "nice": false, "zero": false}, "axis": {"values": [0,1,2,3,4], "format": "d", "title": "Mean No. of Scans Per Patient Per Month", "zindex": 1}}, "y2": {"datum": 4.4725}}},
 {"data": {"values": [{}]}, "mark": {"type": "rect", "fill": "#ffffff", "stroke": "#555555", "strokeWidth": 1},
  "encoding": {"x": {"datum": 1994.8, "type": "quantitative", "scale": {"domain": [1994.8, 2006.2], "nice": false, "zero": false}, "axis": {"values": [1995,1996,1997,1998,1999,2000,2001,2002,2003,2004,2005,2006], "format": "d", "title": "Year of Diagnosis", "zindex": 1}}, "x2": {"datum": 2006.2},
   "y": {"datum": -0.088, "type": "quantitative", "scale": {"domain": [-0.088, 4.08], "nice": false, "zero": false}, "axis": {"values": [0,1,2,3,4], "format": "d", "title": "Mean No. of Scans Per Patient Per Month", "zindex": 1}}, "y2": {"datum": 4.08}}},
 {"mark": {"type": "line", "interpolate": "monotone", "strokeWidth": 1.2},
  "encoding": {"x": {"field": "year", "type": "quantitative", "scale": {"domain": [1994.8, 2006.2], "nice": false, "zero": false}, "axis": {"values": [1995,1996,1997,1998,1999,2000,2001,2002,2003,2004,2005,2006], "format": "d", "title": "Year of Diagnosis", "zindex": 1}},
   "y": {"field": "value", "type": "quantitative", "scale": {"domain": [-0.088, 4.08], "nice": false, "zero": false}, "axis": {"values": [0,1,2,3,4], "format": "d", "title": "Mean No. of Scans Per Patient Per Month", "zindex": 1}},
   "stroke": {"field": "stage", "type": "nominal", "scale": {"domain": ["I-II", "IV"], "range": ["#8a8a8a", "#333333"]}, "legend": null},
   "strokeDash": {"field": "stage", "type": "nominal", "scale": {"domain": ["I-II", "IV"], "range": [[1.5, 2], [1, 0]]}, "legend": null}}},
 {"transform": [{"fold": ["lower", "upper"], "as": ["bound", "est"]}],
  "mark": {"type": "point", "shape": "square", "size": 13, "filled": true, "stroke": "#444444", "strokeWidth": 0.9, "opacity": 1},
  "encoding": {"x": {"field": "year", "type": "quantitative", "scale": {"domain": [1994.8, 2006.2], "nice": false, "zero": false}, "axis": {"values": [1995,1996,1997,1998,1999,2000,2001,2002,2003,2004,2005,2006], "format": "d", "title": "Year of Diagnosis", "zindex": 1}},
   "y": {"field": "est", "type": "quantitative", "scale": {"domain": [-0.088, 4.08], "nice": false, "zero": false}, "axis": {"values": [0,1,2,3,4], "format": "d", "title": "Mean No. of Scans Per Patient Per Month", "zindex": 1}},
   "fill": {"field": "stage", "type": "nominal", "scale": {"domain": ["I-II", "IV"], "range": ["#ffffff", "#000000"]}, "legend": null},
   "order": {"field": "stage", "type": "nominal"}}},
 {"transform": [{"filter": "datum.year == 2006"}, {"calculate": "'C2 ' + datum.stage", "as": "key"}, {"lookup": "key", "from": {"data": {"name": "labels"}, "key": "key", "fields": ["text"]}}],
  "mark": {"type": "text", "align": "left", "baseline": "middle", "dx": 8, "fontSize": 8, "color": "#333333"},
  "encoding": {"x": {"field": "year", "type": "quantitative", "scale": {"domain": [1994.8, 2006.2], "nice": false, "zero": false}, "axis": {"values": [1995,1996,1997,1998,1999,2000,2001,2002,2003,2004,2005,2006], "format": "d", "title": "Year of Diagnosis", "zindex": 1}},
   "y": {"field": "value", "type": "quantitative", "scale": {"domain": [-0.088, 4.08], "nice": false, "zero": false}, "axis": {"values": [0,1,2,3,4], "format": "d", "title": "Mean No. of Scans Per Patient Per Month", "zindex": 1}},
   "text": {"field": "text", "type": "nominal"}}},
 {"data": {"values": [{}]}, "mark": {"type": "text", "text": "Relative Change", "align": "left", "baseline": "middle", "dx": 4, "dy": -5, "fontSize": 8, "fontWeight": "bold", "color": "#222222"},
  "encoding": {"x": {"datum": 2006.2, "type": "quantitative", "scale": {"domain": [1994.8, 2006.2], "nice": false, "zero": false}, "axis": {"values": [1995,1996,1997,1998,1999,2000,2001,2002,2003,2004,2005,2006], "format": "d", "title": "Year of Diagnosis", "zindex": 1}},
   "y": {"datum": 4.08, "type": "quantitative", "scale": {"domain": [-0.088, 4.08], "nice": false, "zero": false}, "axis": {"values": [0,1,2,3,4], "format": "d", "title": "Mean No. of Scans Per Patient Per Month", "zindex": 1}}}}
]}
]}
]},
{"title": {"text": "D", "anchor": "start", "frame": "bounds", "orient": "top", "baseline": "alphabetic", "offset": -13.5, "dx": 1, "font": "Liberation Serif", "fontSize": 17, "fontWeight": "normal", "color": "#000000"},
 "spacing": 0, "hconcat": [
{"width": 240, "height": 223, "data": {"name": "D1"}, "layer": [
 {"data": {"values": [{}]}, "mark": {"type": "rect", "fill": "#dcdcdc", "stroke": "#555555", "strokeWidth": 1, "clip": false},
  "encoding": {"x": {"datum": 1992.71, "type": "quantitative", "scale": {"domain": [1994.8, 2006.2], "nice": false, "zero": false}, "axis": {"values": [1995,1996,1997,1998,1999,2000,2001,2002,2003,2004,2005,2006], "format": "d", "title": "Year of Death", "zindex": 1}}, "x2": {"datum": 2010.404},
   "y": {"datum": -19.02, "type": "quantitative", "scale": {"domain": [-2.2, 102], "nice": false, "zero": false}, "axis": {"values": [0,10,20,30,40,50,60,70,80,90,100], "format": "d", "title": "% of Patients Imaged", "zindex": 1}}, "y2": {"datum": 111.81}}},
 {"data": {"values": [{}]}, "mark": {"type": "rect", "fill": "#ffffff", "stroke": "#555555", "strokeWidth": 1},
  "encoding": {"x": {"datum": 1994.8, "type": "quantitative", "scale": {"domain": [1994.8, 2006.2], "nice": false, "zero": false}, "axis": {"values": [1995,1996,1997,1998,1999,2000,2001,2002,2003,2004,2005,2006], "format": "d", "title": "Year of Death", "zindex": 1}}, "x2": {"datum": 2006.2},
   "y": {"datum": -2.2, "type": "quantitative", "scale": {"domain": [-2.2, 102], "nice": false, "zero": false}, "axis": {"values": [0,10,20,30,40,50,60,70,80,90,100], "format": "d", "title": "% of Patients Imaged", "zindex": 1}}, "y2": {"datum": 102}}},
 {"mark": {"type": "line", "interpolate": "monotone", "strokeWidth": 1.2},
  "encoding": {"x": {"field": "year", "type": "quantitative", "scale": {"domain": [1994.8, 2006.2], "nice": false, "zero": false}, "axis": {"values": [1995,1996,1997,1998,1999,2000,2001,2002,2003,2004,2005,2006], "format": "d", "title": "Year of Death", "zindex": 1}},
   "y": {"field": "value", "type": "quantitative", "scale": {"domain": [-2.2, 102], "nice": false, "zero": false}, "axis": {"values": [0,10,20,30,40,50,60,70,80,90,100], "format": "d", "title": "% of Patients Imaged", "zindex": 1}},
   "stroke": {"field": "stage", "type": "nominal", "scale": {"domain": ["I-II", "IV"], "range": ["#8a8a8a", "#333333"]}, "legend": null},
   "strokeDash": {"field": "stage", "type": "nominal", "scale": {"domain": ["I-II", "IV"], "range": [[1.5, 2], [1, 0]]}, "legend": null}}},
 {"transform": [{"fold": ["lower", "upper"], "as": ["bound", "est"]}],
  "mark": {"type": "point", "shape": "square", "size": 13, "filled": true, "stroke": "#444444", "strokeWidth": 0.9, "opacity": 1},
  "encoding": {"x": {"field": "year", "type": "quantitative", "scale": {"domain": [1994.8, 2006.2], "nice": false, "zero": false}, "axis": {"values": [1995,1996,1997,1998,1999,2000,2001,2002,2003,2004,2005,2006], "format": "d", "title": "Year of Death", "zindex": 1}},
   "y": {"field": "est", "type": "quantitative", "scale": {"domain": [-2.2, 102], "nice": false, "zero": false}, "axis": {"values": [0,10,20,30,40,50,60,70,80,90,100], "format": "d", "title": "% of Patients Imaged", "zindex": 1}},
   "fill": {"field": "stage", "type": "nominal", "scale": {"domain": ["I-II", "IV"], "range": ["#ffffff", "#000000"]}, "legend": null},
   "order": {"field": "stage", "type": "nominal"}}},
 {"transform": [{"filter": "datum.year == 2006 && datum.stage == 'IV'"}, {"calculate": "'D1 ' + datum.stage", "as": "key"}, {"lookup": "key", "from": {"data": {"name": "labels"}, "key": "key", "fields": ["text"]}}],
  "mark": {"type": "text", "align": "left", "baseline": "middle", "dx": 8, "fontSize": 8, "color": "#333333"},
  "encoding": {"x": {"field": "year", "type": "quantitative", "scale": {"domain": [1994.8, 2006.2], "nice": false, "zero": false}, "axis": {"values": [1995,1996,1997,1998,1999,2000,2001,2002,2003,2004,2005,2006], "format": "d", "title": "Year of Death", "zindex": 1}},
   "y": {"field": "value", "type": "quantitative", "scale": {"domain": [-2.2, 102], "nice": false, "zero": false}, "axis": {"values": [0,10,20,30,40,50,60,70,80,90,100], "format": "d", "title": "% of Patients Imaged", "zindex": 1}},
   "text": {"field": "text", "type": "nominal"}}},
 {"transform": [{"filter": "datum.year == 2006 && datum.stage == 'I-II'"}, {"calculate": "'D1 ' + datum.stage", "as": "key"}, {"lookup": "key", "from": {"data": {"name": "labels"}, "key": "key", "fields": ["text"]}}],
  "mark": {"type": "text", "align": "left", "baseline": "middle", "dx": 8, "dy": -5, "fontSize": 8, "color": "#333333"},
  "encoding": {"x": {"field": "year", "type": "quantitative", "scale": {"domain": [1994.8, 2006.2], "nice": false, "zero": false}, "axis": {"values": [1995,1996,1997,1998,1999,2000,2001,2002,2003,2004,2005,2006], "format": "d", "title": "Year of Death", "zindex": 1}},
   "y": {"field": "value", "type": "quantitative", "scale": {"domain": [-2.2, 102], "nice": false, "zero": false}, "axis": {"values": [0,10,20,30,40,50,60,70,80,90,100], "format": "d", "title": "% of Patients Imaged", "zindex": 1}},
   "text": {"field": "text", "type": "nominal"}}},
 {"data": {"values": [{}]}, "mark": {"type": "text", "text": "Relative Change", "align": "left", "baseline": "middle", "dx": 4, "dy": -5, "fontSize": 8, "fontWeight": "bold", "color": "#222222"},
  "encoding": {"x": {"datum": 2006.2, "type": "quantitative", "scale": {"domain": [1994.8, 2006.2], "nice": false, "zero": false}, "axis": {"values": [1995,1996,1997,1998,1999,2000,2001,2002,2003,2004,2005,2006], "format": "d", "title": "Year of Death", "zindex": 1}},
   "y": {"datum": 102, "type": "quantitative", "scale": {"domain": [-2.2, 102], "nice": false, "zero": false}, "axis": {"values": [0,10,20,30,40,50,60,70,80,90,100], "format": "d", "title": "% of Patients Imaged", "zindex": 1}}}}
]},
{"width": 247, "height": 223, "data": {"name": "D2"}, "layer": [
 {"data": {"values": [{}]}, "mark": {"type": "rect", "fill": "#dcdcdc", "stroke": "#555555", "strokeWidth": 1, "clip": false},
  "encoding": {"x": {"datum": 1993.14, "type": "quantitative", "scale": {"domain": [1994.8, 2006.2], "nice": false, "zero": false}, "axis": {"values": [1995,1996,1997,1998,1999,2000,2001,2002,2003,2004,2005,2006], "format": "d", "title": "Year of Death", "zindex": 1}}, "x2": {"datum": 2010.35},
   "y": {"datum": -0.7609, "type": "quantitative", "scale": {"domain": [-0.088, 4.08], "nice": false, "zero": false}, "axis": {"values": [0,1,2,3,4], "format": "d", "title": "Mean No. Scans Per Patient", "zindex": 1}}, "y2": {"datum": 4.4725}}},
 {"data": {"values": [{}]}, "mark": {"type": "rect", "fill": "#ffffff", "stroke": "#555555", "strokeWidth": 1},
  "encoding": {"x": {"datum": 1994.8, "type": "quantitative", "scale": {"domain": [1994.8, 2006.2], "nice": false, "zero": false}, "axis": {"values": [1995,1996,1997,1998,1999,2000,2001,2002,2003,2004,2005,2006], "format": "d", "title": "Year of Death", "zindex": 1}}, "x2": {"datum": 2006.2},
   "y": {"datum": -0.088, "type": "quantitative", "scale": {"domain": [-0.088, 4.08], "nice": false, "zero": false}, "axis": {"values": [0,1,2,3,4], "format": "d", "title": "Mean No. Scans Per Patient", "zindex": 1}}, "y2": {"datum": 4.08}}},
 {"mark": {"type": "line", "interpolate": "monotone", "strokeWidth": 1.2},
  "encoding": {"x": {"field": "year", "type": "quantitative", "scale": {"domain": [1994.8, 2006.2], "nice": false, "zero": false}, "axis": {"values": [1995,1996,1997,1998,1999,2000,2001,2002,2003,2004,2005,2006], "format": "d", "title": "Year of Death", "zindex": 1}},
   "y": {"field": "value", "type": "quantitative", "scale": {"domain": [-0.088, 4.08], "nice": false, "zero": false}, "axis": {"values": [0,1,2,3,4], "format": "d", "title": "Mean No. Scans Per Patient", "zindex": 1}},
   "stroke": {"field": "stage", "type": "nominal", "scale": {"domain": ["I-II", "IV"], "range": ["#8a8a8a", "#333333"]}, "legend": null},
   "strokeDash": {"field": "stage", "type": "nominal", "scale": {"domain": ["I-II", "IV"], "range": [[1.5, 2], [1, 0]]}, "legend": null}}},
 {"transform": [{"fold": ["lower", "upper"], "as": ["bound", "est"]}],
  "mark": {"type": "point", "shape": "square", "size": 13, "filled": true, "stroke": "#444444", "strokeWidth": 0.9, "opacity": 1},
  "encoding": {"x": {"field": "year", "type": "quantitative", "scale": {"domain": [1994.8, 2006.2], "nice": false, "zero": false}, "axis": {"values": [1995,1996,1997,1998,1999,2000,2001,2002,2003,2004,2005,2006], "format": "d", "title": "Year of Death", "zindex": 1}},
   "y": {"field": "est", "type": "quantitative", "scale": {"domain": [-0.088, 4.08], "nice": false, "zero": false}, "axis": {"values": [0,1,2,3,4], "format": "d", "title": "Mean No. Scans Per Patient", "zindex": 1}},
   "fill": {"field": "stage", "type": "nominal", "scale": {"domain": ["I-II", "IV"], "range": ["#ffffff", "#000000"]}, "legend": null},
   "order": {"field": "stage", "type": "nominal"}}},
 {"transform": [{"filter": "datum.year == 2006 && datum.stage == 'IV'"}, {"calculate": "'D2 ' + datum.stage", "as": "key"}, {"lookup": "key", "from": {"data": {"name": "labels"}, "key": "key", "fields": ["text"]}}],
  "mark": {"type": "text", "align": "left", "baseline": "middle", "dx": 8, "fontSize": 8, "color": "#333333"},
  "encoding": {"x": {"field": "year", "type": "quantitative", "scale": {"domain": [1994.8, 2006.2], "nice": false, "zero": false}, "axis": {"values": [1995,1996,1997,1998,1999,2000,2001,2002,2003,2004,2005,2006], "format": "d", "title": "Year of Death", "zindex": 1}},
   "y": {"field": "value", "type": "quantitative", "scale": {"domain": [-0.088, 4.08], "nice": false, "zero": false}, "axis": {"values": [0,1,2,3,4], "format": "d", "title": "Mean No. Scans Per Patient", "zindex": 1}},
   "text": {"field": "text", "type": "nominal"}}},
 {"transform": [{"filter": "datum.year == 2006 && datum.stage == 'I-II'"}, {"calculate": "'D2 ' + datum.stage", "as": "key"}, {"lookup": "key", "from": {"data": {"name": "labels"}, "key": "key", "fields": ["text"]}}],
  "mark": {"type": "text", "align": "left", "baseline": "middle", "dx": 8, "dy": -5, "fontSize": 8, "color": "#333333"},
  "encoding": {"x": {"field": "year", "type": "quantitative", "scale": {"domain": [1994.8, 2006.2], "nice": false, "zero": false}, "axis": {"values": [1995,1996,1997,1998,1999,2000,2001,2002,2003,2004,2005,2006], "format": "d", "title": "Year of Death", "zindex": 1}},
   "y": {"field": "value", "type": "quantitative", "scale": {"domain": [-0.088, 4.08], "nice": false, "zero": false}, "axis": {"values": [0,1,2,3,4], "format": "d", "title": "Mean No. Scans Per Patient", "zindex": 1}},
   "text": {"field": "text", "type": "nominal"}}},
 {"data": {"values": [{}]}, "mark": {"type": "text", "text": "Relative Change", "align": "left", "baseline": "middle", "dx": 4, "dy": -5, "fontSize": 8, "fontWeight": "bold", "color": "#222222"},
  "encoding": {"x": {"datum": 2006.2, "type": "quantitative", "scale": {"domain": [1994.8, 2006.2], "nice": false, "zero": false}, "axis": {"values": [1995,1996,1997,1998,1999,2000,2001,2002,2003,2004,2005,2006], "format": "d", "title": "Year of Death", "zindex": 1}},
   "y": {"datum": 4.08, "type": "quantitative", "scale": {"domain": [-0.088, 4.08], "nice": false, "zero": false}, "axis": {"values": [0,1,2,3,4], "format": "d", "title": "Mean No. Scans Per Patient", "zindex": 1}}}}
]}
]}
]
}
